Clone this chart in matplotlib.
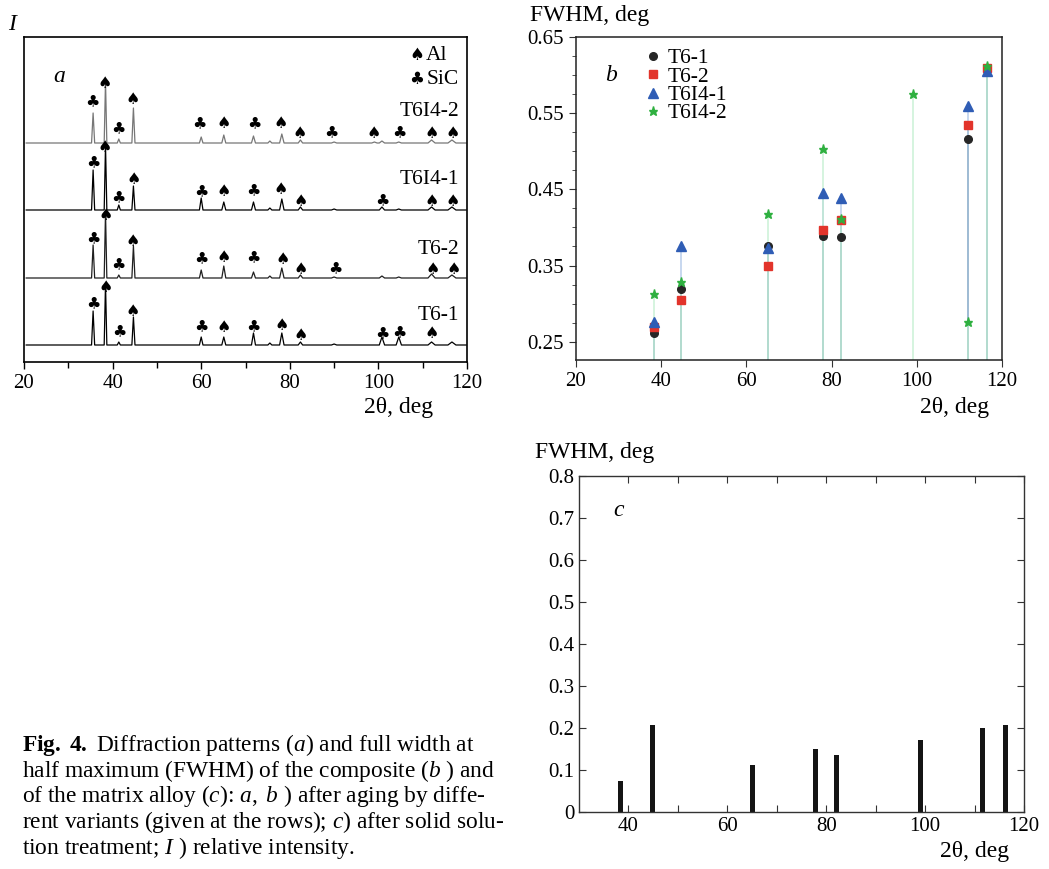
import matplotlib
matplotlib.use("Agg")
import matplotlib.pyplot as plt
from matplotlib.ticker import MultipleLocator, FixedLocator, FixedFormatter

plt.rcParams['font.family'] = ['Liberation Serif', 'DejaVu Serif']
plt.rcParams['mathtext.fontset'] = 'custom'
plt.rcParams['mathtext.rm'] = 'Liberation Serif'
plt.rcParams['mathtext.it'] = 'Liberation Serif:italic'
plt.rcParams['mathtext.bf'] = 'Liberation Serif:bold'

# ---- panel a: diffraction patterns (heights in arbitrary units) ----
peak_pos = [35.6, 38.4, 41.4, 44.7, 60.0, 65.1, 71.8, 75.5, 78.2, 82.4, 90.0, 99.1, 100.8, 104.6, 112.0, 116.6]
peak_hw = [0.35, 0.3, 0.35, 0.35, 0.4, 0.45, 0.45, 0.45, 0.5, 0.5, 0.6, 0.6, 0.6, 0.6, 0.8, 0.9]
samples = ["T6-1", "T6-2", "T6I4-1", "T6I4-2"]
baselines = [17, 84, 152, 219]
heights = {
    "T6-1":   [34, 62, 3, 28, 8, 8, 12, 2, 12, 3, 1, 0, 8, 8, 3, 3],
    "T6-2":   [33, 66, 3, 32, 8, 12, 6, 2, 10, 3, 1, 0, 2, 1, 4, 3],
    "T6I4-1": [40, 65, 5, 24, 12, 8, 8, 2, 11, 3, 1, 0, 3, 1, 3, 3],
    "T6I4-2": [30, 62, 4, 35, 6, 8, 7, 2, 9, 3, 1, 1, 2, 1, 3, 3],
}
trace_color = {"T6-1": "black", "T6-2": "#202020", "T6I4-1": "black", "T6I4-2": "#777777"}

# phase marks: (2theta, phase, height above baseline)
marks = {
    "T6-1": [(35.6, "SiC", 41), (38.4, "Al", 58), (41.5, "SiC", 13), (44.6, "Al", 33),
             (60.0, "SiC", 18), (65.0, "Al", 18), (71.8, "SiC", 18), (78.2, "Al", 19),
             (82.4, "Al", 10), (100.8, "SiC", 11), (104.7, "SiC", 12), (112.1, "Al", 12)],
    "T6-2": [(35.6, "SiC", 39), (38.4, "Al", 63), (41.4, "SiC", 13), (44.6, "Al", 37),
             (60.0, "SiC", 19), (65.0, "Al", 21), (71.8, "SiC", 20), (78.3, "Al", 19),
             (82.4, "Al", 8), (90.3, "SiC", 9), (112.2, "Al", 9), (117.0, "Al", 9)],
    "T6I4-1": [(35.6, "SiC", 47), (38.3, "Al", 63), (41.4, "SiC", 12), (44.7, "Al", 31),
               (60.0, "SiC", 18), (65.0, "Al", 18), (71.8, "SiC", 19), (78.0, "Al", 20),
               (82.4, "Al", 8), (100.9, "SiC", 9), (112.0, "Al", 9), (116.8, "Al", 9)],
    "T6I4-2": [(35.5, "SiC", 41), (38.3, "Al", 59), (41.4, "SiC", 14), (44.6, "Al", 43),
               (59.6, "SiC", 19), (65.0, "Al", 19), (71.9, "SiC", 19), (78.0, "Al", 19),
               (82.3, "Al", 10), (89.5, "SiC", 10), (99.0, "Al", 9), (104.7, "SiC", 10),
               (112.1, "Al", 9), (116.8, "Al", 9)],
}
label_y = {"T6-1": 47, "T6-2": 112, "T6I4-1": 182, "T6I4-2": 250}
glyph = {"Al": "\u2660", "SiC": "\u2663"}

# ---- panel b: FWHM of the composite ----
b_x = [38.3, 44.6, 65.0, 78.0, 82.3, 99.1, 112.0, 116.5]
fwhm_b = {
    "T6-1":   [0.262, 0.319, 0.376, 0.389, 0.387, None, 0.516, 0.609],
    "T6-2":   [0.269, 0.305, 0.350, 0.397, 0.410, None, 0.535, 0.609],
    "T6I4-1": [0.276, 0.375, 0.373, 0.445, 0.439, None, 0.560, 0.606],
    "T6I4-2": [0.313, 0.328, 0.417, 0.503, 0.411, 0.575, 0.276, 0.612],
}
b_style = {
    "T6-1": ("o", "#262626", 5.5),
    "T6-2": ("s", "#e2342b", 5.5),
    "T6I4-1": ("^", "#2f5db5", 7),
    "T6I4-2": ("*", "#2fb040", 6.5),
}
stem_color = {"T6-1": "#5a7f8c", "T6-2": "#8fb7b8", "T6I4-1": "#a9c2e6", "T6I4-2": "#bfeecd"}

# ---- panel c: FWHM of the matrix alloy ----
c_x = [38.4, 44.8, 65.1, 77.9, 82.1, 99.0, 111.7, 116.3]
fwhm_c = [0.075, 0.207, 0.113, 0.151, 0.135, 0.171, 0.201, 0.206]

fig = plt.figure(figsize=(10.49, 8.69), dpi=100)
W, H = 1049.0, 869.0


def box(l, t, r, b):
    return [l / W, 1 - b / H, (r - l) / W, (b - t) / H]


fs_tick = 15
fs_lab = 17
fs_txt = 15.5

# panel a
axa = fig.add_axes(box(24, 37, 467, 362))
for s, base in zip(samples, baselines):
    xs, ys = [20.5], [base]
    for p, w, h in zip(peak_pos, peak_hw, heights[s]):
        xs += [p - w, p, p + w]
        ys += [base, base + h, base]
    xs.append(119.8)
    ys.append(base)
    axa.plot(xs, ys, color=trace_color[s], lw=0.9)
    for p, ph, hh in marks[s]:
        axa.text(p, base + hh, glyph[ph], family=['DejaVu Sans'], fontsize=11.5,
                 ha='center', va='center')
    axa.text(118.2, label_y[s], s, fontsize=fs_txt, ha='right', va='center')
axa.text(108.6, 307, glyph["Al"], family=['DejaVu Sans'], fontsize=12, ha='center', va='center')
axa.text(110.8, 307, "Al", fontsize=fs_txt, ha='left', va='center')
axa.text(108.6, 283, glyph["SiC"], family=['DejaVu Sans'], fontsize=12, ha='center', va='center')
axa.text(110.8, 283, "SiC", fontsize=fs_txt, ha='left', va='center')
axa.text(28.0, 286, "a", fontsize=fs_lab, style='italic', ha='center', va='center')
axa.set_xlim(20, 120)
axa.set_ylim(0, 325)
axa.set_yticks([])
axa.xaxis.set_major_locator(MultipleLocator(20))
axa.xaxis.set_minor_locator(MultipleLocator(10))
axa.tick_params(axis='x', which='both', direction='out', labelsize=fs_tick, width=1)
axa.tick_params(axis='x', which='major', length=5)
axa.tick_params(axis='x', which='minor', length=4)
for sp in axa.spines.values():
    sp.set_linewidth(1.2)
fig.text(399 / W, 1 - 408 / H, "2\u03b8, deg", fontsize=fs_lab, ha='center', va='center')
fig.text(12 / W, 1 - 24 / H, "I", fontsize=fs_lab, style='italic', ha='center', va='center')

# panel b
axb = fig.add_axes(box(576, 37, 1002, 360))
for s in samples:
    xs = [x for x, v in zip(b_x, fwhm_b[s]) if v is not None]
    vs = [v for v in fwhm_b[s] if v is not None]
    axb.vlines(xs, 0.2, vs, colors=stem_color[s], lw=1.3, alpha=0.7, zorder=1)
for s in samples:
    m, c, ms = b_style[s]
    xs = [x for x, v in zip(b_x, fwhm_b[s]) if v is not None]
    vs = [v for v in fwhm_b[s] if v is not None]
    axb.plot(xs, vs, ls='none', marker=m, color=c, ms=ms, mec=c, label=s, zorder=3)
axb.set_xlim(20, 120)
axb.set_ylim(0.226, 0.65)
axb.xaxis.set_major_locator(MultipleLocator(20))
axb.yaxis.set_major_locator(FixedLocator([0.25, 0.35, 0.45, 0.55, 0.65]))
axb.yaxis.set_major_formatter(FixedFormatter(["0.25", "0.35", "0.45", "0.55", "0.65"]))
axb.yaxis.set_minor_locator(MultipleLocator(0.025))
axb.tick_params(which='both', direction='out', labelsize=fs_tick, color='#333333')
axb.tick_params(which='major', length=5)
axb.tick_params(which='minor', length=3)
for sp in axb.spines.values():
    sp.set_linewidth(1.1)
    sp.set_color('#222222')
axb.legend(loc='upper left', bbox_to_anchor=(0.155, 0.965), frameon=False, fontsize=15.5,
           handlelength=1.0, handletextpad=0.2, labelspacing=-0.08, borderaxespad=0,
           borderpad=0)
axb.text(28.2, 0.600, "b", fontsize=fs_lab, style='italic', ha='center', va='center')
fig.text(530 / W, 1 - 15 / H, "FWHM, deg", fontsize=fs_lab, ha='left', va='center')
fig.text(955 / W, 1 - 407 / H, "2\u03b8, deg", fontsize=fs_lab, ha='center', va='center')

# panel c
axc = fig.add_axes(box(579, 476, 1024, 812))
axc.bar(c_x, fwhm_c, width=1.0, color='#141414')
axc.set_xlim(30, 120)
axc.set_ylim(0, 0.8)
axc.xaxis.set_major_locator(FixedLocator(list(range(40, 121, 10))))
axc.xaxis.set_major_formatter(FixedFormatter(["40", "", "60", "", "80", "", "100", "", "120"]))
axc.yaxis.set_major_locator(FixedLocator([0, 0.1, 0.2, 0.3, 0.4, 0.5, 0.6, 0.7, 0.8]))
axc.yaxis.set_major_formatter(FixedFormatter(["0", "0.1", "0.2", "0.3", "0.4", "0.5", "0.6", "0.7", "0.8"]))
axc.tick_params(which='both', direction='in', top=True, right=True, labelsize=fs_tick,
                length=5, color='#333333')
for sp in axc.spines.values():
    sp.set_linewidth(1.0)
    sp.set_color('#333333')
axc.text(37.9, 0.719, "c", fontsize=fs_lab, style='italic', ha='center', va='center')
fig.text(535 / W, 1 - 452 / H, "FWHM, deg", fontsize=fs_lab, ha='left', va='center')
fig.text(975 / W, 1 - 851 / H, "2\u03b8, deg", fontsize=fs_lab, ha='center', va='center')

# caption
caption = [
    r"$\mathbf{Fig.\ 4.}$ Diffraction patterns ($\mathit{a}$) and full width at",
    r"half maximum (FWHM) of the composite ($\mathit{b}$ ) and",
    r"of the matrix alloy ($\mathit{c}$): $\mathit{a,\ b}$ ) after aging by diffe-",
    r"rent variants (given at the rows); $\mathit{c}$) after solid solu-",
    r"tion treatment; $\mathit{I}$ ) relative intensity.",
]
for i, line in enumerate(caption):
    fig.text(22 / W, 1 - (745 + 25.7 * i) / H, line, fontsize=16.8, ha='left', va='center')

fig.savefig("out.png", dpi=100)
